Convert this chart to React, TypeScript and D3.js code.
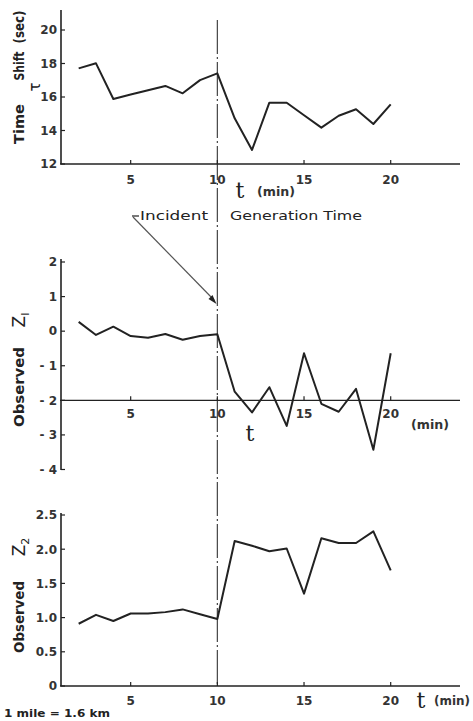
import React from "react";
import * as d3 from "d3";

const times = [2, 3, 4, 5, 6, 7, 8, 9, 10, 11, 12, 13, 14, 15, 16, 17, 18, 19, 20];
const timeShift = [17.71, 18.01, 15.88, 16.15, 16.4, 16.66, 16.22, 17.01, 17.41, 14.73, 12.84, 15.66, 15.66, 14.91, 14.17, 14.88, 15.27, 14.39, 15.56];
const z1 = [0.27, -0.11, 0.13, -0.14, -0.19, -0.08, -0.25, -0.14, -0.09, -1.75, -2.35, -1.62, -2.74, -0.64, -2.1, -2.33, -1.67, -3.43, -0.64];
const z2 = [0.91, 1.04, 0.95, 1.06, 1.06, 1.08, 1.12, 1.05, 0.98, 2.12, 2.05, 1.97, 2.01, 1.35, 2.16, 2.09, 2.09, 2.26, 1.69];

const xTicks = [5, 10, 15, 20];
const topYTicks = [12, 14, 16, 18, 20];
const midYTicks = [2, 1, 0, -1, -2, -3, -4];
const botYTicks = [0, 0.5, 1.0, 1.5, 2.0, 2.5];
const botYLabels = ["0", "0.5", "1.0", "1.5", "2.0", "2.5"];
const incidentTime = 10;

const INK = "#222";
const FONT = "'DejaVu Sans', 'Liberation Sans', sans-serif";

const x = d3.scaleLinear().domain([0, 20]).range([44, 390.7]);
const yTop = d3.scaleLinear().domain([12, 20]).range([164, 30]);
const yMid = d3.scaleLinear().domain([-4, 2]).range([469.5, 262]);
const yBot = d3.scaleLinear().domain([0, 2.5]).range([686, 515]);

const AXIS_X0 = 60;
const AXIS_X1 = 460;

function linePath(vals: number[], y: d3.ScaleLinear<number, number>) {
  const gen = d3
    .line<number>()
    .x((_, i) => x(times[i]))
    .y((v) => y(v));
  return gen(vals) || "";
}

function YAxis({ y, ticks, labels, top, bottom }: any) {
  return (
    <g>
      <line x1={AXIS_X0 + 1} x2={AXIS_X0 + 1} y1={top} y2={bottom} stroke={INK} strokeWidth={1.6} />
      {ticks.map((t: number, i: number) => (
        <g key={i}>
          <line x1={AXIS_X0 + 1} x2={AXIS_X0 + 5} y1={y(t)} y2={y(t)} stroke={INK} strokeWidth={1.2} />
          <text
            x={AXIS_X0 - 3}
            y={y(t)}
            dy="0.36em"
            textAnchor="end"
            fontSize={12}
            fontWeight="bold"
            fontFamily={FONT}
            fill="#333"
          >
            {labels ? labels[i] : String(t).replace("-", "- ")}
          </text>
        </g>
      ))}
    </g>
  );
}

function XAxis({ yPos, labelY }: any) {
  return (
    <g>
      <line x1={AXIS_X0} x2={AXIS_X1} y1={yPos} y2={yPos} stroke={INK} strokeWidth={1.4} />
      {xTicks.map((t) => (
        <g key={t}>
          <line x1={x(t)} x2={x(t)} y1={yPos - 4} y2={yPos} stroke={INK} strokeWidth={1.2} />
          <text x={x(t)} y={labelY} textAnchor="middle" fontSize={12} fontWeight="bold" fontFamily={FONT} fill="#333">
            {t}
          </text>
        </g>
      ))}
    </g>
  );
}

function VLabel({ cx, cy, text, size, len, bold = true }: any) {
  return (
    <text
      transform={`translate(${cx},${cy}) rotate(-90)`}
      textAnchor="middle"
      dy="0.36em"
      fontSize={size}
      fontWeight={bold ? "bold" : "normal"}
      fontFamily={FONT}
      fill={INK}
      textLength={len}
      lengthAdjust={len ? "spacingAndGlyphs" : undefined}
    >
      {text}
    </text>
  );
}

export default function App() {
  const xi = x(incidentTime);
  return (
    <svg
      width={473}
      height={721}
      style={{ position: "absolute", left: 0, top: 0, background: "#fff" }}
    >
      <rect width={473} height={721} fill="#fff" />

      {/* incident vertical dash-dot line */}
      <line
        x1={xi}
        x2={xi}
        y1={20}
        y2={686}
        stroke="#444"
        strokeWidth={1.2}
        strokeDasharray="34 3 2 3"
      />

      {/* ---------- top panel ---------- */}
      <YAxis y={yTop} ticks={topYTicks} top={10} bottom={164} />
      <XAxis yPos={164} labelY={184} />
      <path d={linePath(timeShift, yTop)} fill="none" stroke={INK} strokeWidth={2} strokeLinejoin="round" />
      <text x={240} y={198} textAnchor="middle" fontSize={22} fontFamily="'DejaVu Serif', serif" fill={INK}>
        t
      </text>
      <text x={257} y={196} fontSize={12.5} fontWeight="bold" fontFamily={FONT} fill="#333" textLength={38} lengthAdjust="spacingAndGlyphs">
        (min)
      </text>
      <VLabel cx={19} cy={124} text="Time" size={14} len={40} />
      <VLabel cx={19} cy={66} text="Shift" size={14} len={29} />
      <VLabel cx={19} cy={27} text="(sec)" size={14} len={33} />
      <VLabel cx={35} cy={87} text="τ" size={15} bold={false} />

      {/* ---------- annotation ---------- */}
      <text x={140} y={220} fontSize={12.5} fontFamily={FONT} fill={INK} textLength={68} lengthAdjust="spacingAndGlyphs">
        Incident
      </text>
      <text x={230} y={220} fontSize={12.5} fontFamily={FONT} fill={INK} textLength={132} lengthAdjust="spacingAndGlyphs">
        Generation  Time
      </text>
      <line x1={132} x2={139} y1={216} y2={216} stroke={INK} strokeWidth={1.2} />
      <line x1={133} y1={217} x2={214} y2={300} stroke="#555" strokeWidth={1.2} />
      <path d="M216.5,304 L208.5,299 L212.5,295 Z" fill={INK} />

      {/* ---------- middle panel ---------- */}
      <YAxis y={yMid} ticks={midYTicks} top={259} bottom={470} />
      <XAxis yPos={yMid(-2)} labelY={418} />
      <path d={linePath(z1, yMid)} fill="none" stroke={INK} strokeWidth={2} strokeLinejoin="round" />
      <text x={250} y={441} textAnchor="middle" fontSize={22} fontFamily="'DejaVu Serif', serif" fill={INK}>
        t
      </text>
      <text x={411} y={429} fontSize={12.5} fontWeight="bold" fontFamily={FONT} fill="#333" textLength={38} lengthAdjust="spacingAndGlyphs">
        (min)
      </text>
      <VLabel cx={19} cy={387} text="Observed" size={14} len={80} />
      <text transform="translate(19,320) rotate(-90)" textAnchor="middle" dy="0.36em" fontSize={17} fontFamily={FONT} fill={INK}>
        Z<tspan fontSize={11} dy="4">I</tspan>
      </text>

      {/* ---------- bottom panel ---------- */}
      <YAxis y={yBot} ticks={botYTicks} labels={botYLabels} top={513} bottom={686} />
      <XAxis yPos={686} labelY={705} />
      <path d={linePath(z2, yBot)} fill="none" stroke={INK} strokeWidth={2} strokeLinejoin="round" />
      <text x={421} y={708} textAnchor="middle" fontSize={22} fontFamily="'DejaVu Serif', serif" fill={INK}>
        t
      </text>
      <text x={434} y={705} fontSize={12.5} fontWeight="bold" fontFamily={FONT} fill="#333" textLength={36} lengthAdjust="spacingAndGlyphs">
        (min)
      </text>
      <VLabel cx={19} cy={617} text="Observed" size={14} len={72} />
      <text transform="translate(19,547) rotate(-90)" textAnchor="middle" dy="0.36em" fontSize={17} fontFamily={FONT} fill={INK}>
        Z<tspan fontSize={11} dy="4">2</tspan>
      </text>

      <text x={4} y={717} fontSize={11} fontWeight="bold" fontFamily={FONT} fill={INK} textLength={106} lengthAdjust="spacingAndGlyphs">
        1 mile = 1.6 km
      </text>
    </svg>
  );
}
